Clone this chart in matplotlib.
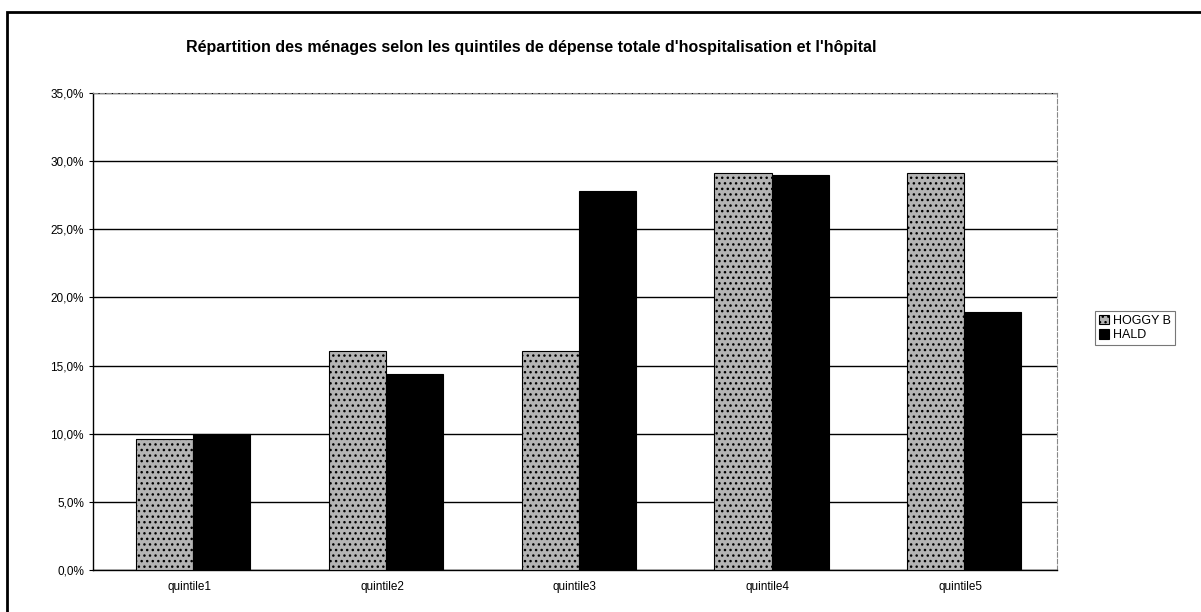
import numpy as np
import matplotlib.pyplot as plt
from matplotlib.patches import Rectangle
from matplotlib.ticker import FuncFormatter

plt.rcParams['font.family'] = ['Liberation Sans', 'DejaVu Sans']
plt.rcParams['hatch.color'] = '#555555'

# data
categories = ['quintile1', 'quintile2', 'quintile3', 'quintile4', 'quintile5']
hoggy_b = [9.6, 16.1, 16.1, 29.1, 29.1]
hald = [10.0, 14.4, 27.8, 29.0, 18.9]

fig = plt.figure(figsize=(12.01, 6.12), dpi=100)
ax = fig.add_axes([0.0774, 0.0686, 0.8026, 0.7794])

x = np.arange(len(categories))
w = 0.296
off = 0.02
ax.bar(x - w / 2 + off, hoggy_b, w, color='#b4b4b4', edgecolor='black', linewidth=0.8,
       hatch='...', label='HOGGY B', zorder=3)
ax.bar(x + w / 2 + off, hald, w, color='black', edgecolor='black', linewidth=0.8,
       label='HALD', zorder=3)

ax.set_xlim(-0.5, len(categories) - 0.5)
ax.set_ylim(0, 35)
ax.set_yticks(np.arange(0, 35.1, 5))
ax.yaxis.set_major_formatter(FuncFormatter(lambda v, p: f'{v:.1f}%'.replace('.', ',')))
ax.set_xticks(x)
ax.set_xticklabels(categories)
ax.tick_params(axis='both', labelsize=8.5, length=3)
ax.tick_params(axis='x', length=0, pad=8)
ax.grid(axis='y', color='black', linewidth=1.0, zorder=0)

for s in ['top', 'right']:
    ax.spines[s].set_color('#888888')
    ax.spines[s].set_linestyle((0, (4, 2)))
    ax.spines[s].set_linewidth(0.8)
ax.spines['left'].set_linewidth(1.0)
ax.spines['bottom'].set_linewidth(1.0)

fig.text(0.442, 0.923, "Répartition des ménages selon les quintiles de dépense totale d'hospitalisation et l'hôpital",
         ha='center', va='center', fontsize=11.5, fontweight='bold')

leg = fig.legend(loc='upper left', bbox_to_anchor=(0.912, 0.492), fontsize=9,
                 frameon=True, fancybox=False, edgecolor='#555555',
                 handlelength=0.8, handleheight=0.8, handletextpad=0.3,
                 borderpad=0.3, labelspacing=0.2, borderaxespad=0)
leg.get_frame().set_linewidth(0.8)

# outer frame of the chart
fig.patches.append(Rectangle((0.006, -0.01), 1.0, 0.99, transform=fig.transFigure,
                             fill=False, edgecolor='black', linewidth=2.0))

fig.savefig('out.png', dpi=100)
